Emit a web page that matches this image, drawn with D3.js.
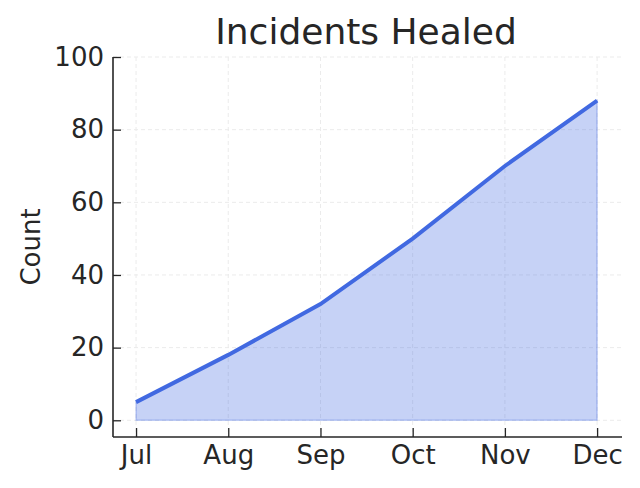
<!DOCTYPE html>
<html><head><meta charset="utf-8">
<script src="https://cdn.jsdelivr.net/npm/d3@7"></script>
<style>body{margin:0;background:#fff}svg{display:block}text{font-family:"DejaVu Sans",sans-serif;fill:#262626}</style>
</head><body>
<script>
const months = ["Jul","Aug","Sep","Oct","Nov","Dec"];
const counts = [5, 18, 32, 50, 70, 88];
const yTicks = [0, 20, 40, 60, 80, 100];
const title = "Incidents Healed";
const yLabel = "Count";

const W = 640, H = 488;
const L = 113, R = 622, T = 57, B = 437;
const svg = d3.select("body").append("svg").attr("width", W).attr("height", H);

const x = d3.scaleLinear().domain([-0.25, 5.27]).range([L, R]);
const y = d3.scaleLinear().domain([-4.6, 100]).range([B, T]);

// grid
const g = svg.append("g");
g.selectAll(".vg").data(months).enter().append("line")
  .attr("x1", (d,i)=>x(i)).attr("x2",(d,i)=>x(i)).attr("y1",T).attr("y2",B)
  .attr("stroke","#ebebeb").attr("stroke-width",1).attr("stroke-dasharray","4,3");
g.selectAll(".hg").data(yTicks).enter().append("line")
  .attr("x1", L).attr("x2", R).attr("y1", d=>y(d)).attr("y2", d=>y(d))
  .attr("stroke","#ebebeb").attr("stroke-width",1).attr("stroke-dasharray","4,3");

// area
const area = d3.area().x((d,i)=>x(i)).y0(y(0)).y1(d=>y(d));
svg.append("path").datum(counts).attr("d", area)
  .attr("fill","rgba(65,105,225,0.3)").attr("stroke","rgba(65,105,225,0.3)").attr("stroke-width",1.5);
const line = d3.line().x((d,i)=>x(i)).y(d=>y(d));
svg.append("path").datum(counts).attr("d", line)
  .attr("fill","none").attr("stroke","#4169E1").attr("stroke-width",4);

// axes
const xa = svg.append("g").attr("transform",`translate(0,${B})`)
  .call(d3.axisBottom(x).tickValues(d3.range(months.length)).tickFormat(i=>months[i]).tickSizeInner(-9).tickSizeOuter(0).tickPadding(9));
const ya = svg.append("g").attr("transform",`translate(${L},0)`)
  .call(d3.axisLeft(y).tickValues(yTicks).tickSizeInner(-8).tickSizeOuter(0).tickPadding(9));
[xa, ya].forEach(a=>{
  a.select(".domain").attr("stroke","#262626").attr("stroke-width",1.6);
  a.selectAll(".tick line").attr("stroke","#262626").attr("stroke-width",1.3);
  a.selectAll(".tick text").style("font-size","26px").attr("fill","#262626");
});
xa.select(".domain").attr("d", `M${L},0H${R}`);
ya.select(".domain").attr("d", `M0,${T}V${B}`);

svg.append("text").attr("x", 366).attr("y", 44).attr("text-anchor","middle")
  .style("font-size","36px").text(title);
svg.append("text").attr("transform",`translate(40,${(T+B)/2}) rotate(-90)`).attr("text-anchor","middle")
  .style("font-size","26px").text(yLabel);
</script>
</body></html>
